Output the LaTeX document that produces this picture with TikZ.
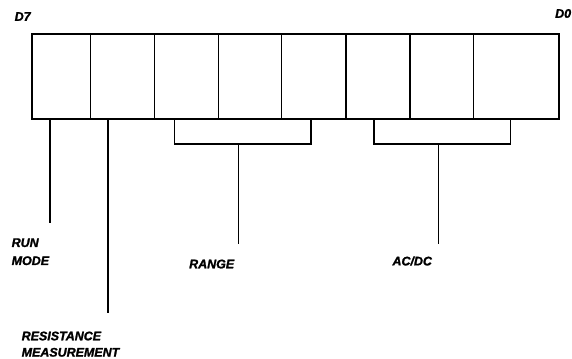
\documentclass[tikz,border=0pt]{standalone}
\usepackage{fontspec}
\setmainfont{Liberation Sans}
\newfontfamily\lblfont[FakeBold=1.6]{Liberation Sans}
\begin{document}
\begin{tikzpicture}[x=1bp,y=-1bp,
  cell/.style={draw,line width=1.4bp,inner sep=0pt,minimum height=85bp},
  wire/.style={line width=1.2bp},
  lbl/.style={inner sep=0pt,anchor=west,font=\lblfont\fontsize{12.5}{14}\selectfont\bfseries\itshape},
  bitlbl/.style={inner sep=0pt,anchor=west,font=\lblfont\fontsize{12.5}{14}\selectfont\bfseries\itshape}]
\useasboundingbox (0,0) rectangle (572,358);
% register cells (D7 .. D0)
\node[cell,minimum width=58.5bp] (c7) at (61.25,76.5) {};
\node[cell,minimum width=64bp]   (c6) at (122.5,76.5) {};
\node[cell,minimum width=64bp]   (c5) at (186.5,76.5) {};
\node[cell,minimum width=63bp]   (c4) at (250,76.5) {};
\node[cell,minimum width=64.5bp] (c3) at (313.75,76.5) {};
\node[cell,minimum width=64bp]   (c2) at (378,76.5) {};
\node[cell,minimum width=63.5bp] (c1) at (441.75,76.5) {};
\node[cell,minimum width=85.5bp] (c0) at (516.25,76.5) {};
% bit labels
\node[bitlbl] (d7) at (14.5,16.5) {D7};
\node[bitlbl] (d0) at (555,13.5) {D0};
% run mode
\coordinate (runend) at (50,223);
\draw[wire] (runend |- c7.south) -- (runend);
\node[lbl] (run) at (11.5,242.7) {RUN};
\node[lbl] (mode) at (11.5,260.7) {MODE};
% resistance measurement
\coordinate (resend) at (108,313);
\draw[wire] (resend |- c6.south) -- (resend);
\node[lbl] (res) at (21.5,336) {RESISTANCE};
\node[lbl] (meas) at (21.5,352.3) {MEASUREMENT};
% range bracket
\coordinate (rl) at (174.5,144);
\coordinate (rr) at (311,144);
\coordinate (rs) at (238.5,244);
\draw[wire] (rl |- c5.south) -- (rl) -- (rr) -- (rr |- c3.south);
\draw[wire] (rs |- rl) -- (rs);
\node[lbl] (range) at (189,264) {RANGE};
% ac/dc bracket
\coordinate (al) at (374,144);
\coordinate (ar) at (510.5,144);
\coordinate (as) at (438.5,244);
\draw[wire] (al |- c2.south) -- (al) -- (ar) -- (ar |- c0.south);
\draw[wire] (as |- al) -- (as);
\node[lbl] (acdc) at (392.3,261) {AC/DC};
\end{tikzpicture}
\end{document}
